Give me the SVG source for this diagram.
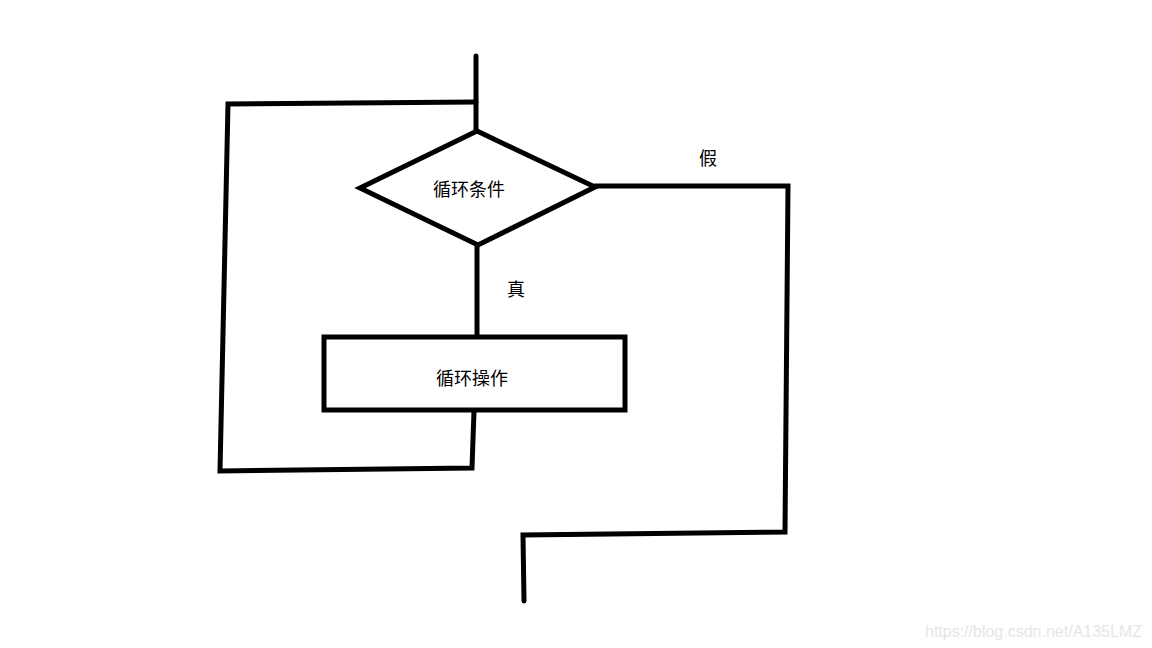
<svg xmlns="http://www.w3.org/2000/svg" width="1152" height="648" viewBox="0 0 1152 648">
<style>
.ln{fill:none;stroke:#000;stroke-width:5;stroke-linecap:round;stroke-linejoin:miter}
.shape{fill:#fff;stroke:#000;stroke-width:5;stroke-linejoin:miter}
.t{font-family:"Microsoft YaHei","Noto Sans CJK SC",sans-serif;font-size:18px;fill:#000;text-anchor:middle}
.wm{font-family:"Liberation Sans",Arial,sans-serif;font-size:16px;fill:#e6e6e6;text-anchor:end}
</style>
<rect width="1152" height="648" fill="#fff"/>
<g id="connectors">
<path class="ln" d="M476,56 L476,131"/>
<path class="ln" d="M476,102 L228,104 L220,471 L472,468 L474,411"/>
<path class="ln" d="M477,245 L477,337"/>
<path class="ln" d="M595,186 L788,186 L785,532 L523,535 L524,601"/>
</g>
<g id="decision">
<polygon class="shape" points="477,131 595,187 478,245 360,188"/>
<text class="t" x="469" y="196">循环条件</text>
</g>
<g id="process">
<rect class="shape" x="324" y="337" width="301" height="73"/>
<text class="t" x="472" y="385">循环操作</text>
</g>
<g id="labels">
<text class="t" x="708" y="165">假</text>
<text class="t" x="516" y="296">真</text>
</g>
<text class="wm" x="1142" y="637">https://blog.csdn.net/A135LMZ</text>
</svg>
